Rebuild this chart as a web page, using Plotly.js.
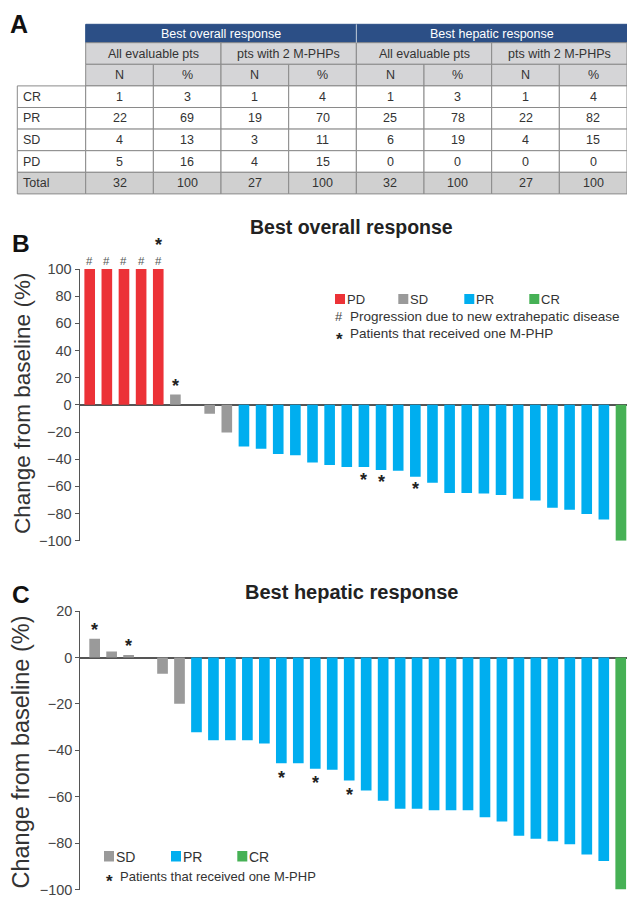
<!DOCTYPE html>
<html><head><meta charset="utf-8">
<script src="https://cdn.plot.ly/plotly-3.0.1.min.js"></script>
<style>html,body{margin:0;padding:0;background:#fff;}#chart{width:627px;height:898px;}</style>
</head><body><div id="chart"></div>
<script>
// ---------- Panel A: table data ----------
const groupHeaders = ['Best overall response', 'Best hepatic response'];
const subHeaders = ['All evaluable pts', 'pts with 2 M-PHPs', 'All evaluable pts', 'pts with 2 M-PHPs'];
const statHeaders = ['N', '%', 'N', '%', 'N', '%', 'N', '%'];
const rowLabels = ['CR', 'PR', 'SD', 'PD', 'Total'];
const overallAllN = [1, 22, 4, 5, 32];
const overallAllPct = [3, 69, 13, 16, 100];
const overallTwoN = [1, 19, 3, 4, 27];
const overallTwoPct = [4, 70, 11, 15, 100];
const hepaticAllN = [1, 25, 6, 0, 32];
const hepaticAllPct = [3, 78, 19, 0, 100];
const hepaticTwoN = [1, 22, 4, 0, 27];
const hepaticTwoPct = [4, 82, 15, 0, 100];

// ---------- Panel B: best overall response ----------
const overallResponse = ['PD','PD','PD','PD','PD','SD','SD','SD','SD',
  'PR','PR','PR','PR','PR','PR','PR','PR','PR','PR','PR','PR','PR','PR','PR','PR','PR','PR','PR','PR','PR','PR','CR'];
const overallChange = [100, 100, 100, 100, 100, 7.6, 0, -6.6, -20.3,
  -30.7, -32.4, -36.1, -37.1, -42.5, -44.2, -45.7, -45.8, -47.9, -48.6, -53.0, -57.4,
  -64.8, -64.8, -65.3, -66.3, -69.2, -70.4, -75.8, -77.3, -80.3, -84.4, -100];
const overallStar = [0,0,0,0,1,1,0,0,0, 0,0,0,0,0,0,0,1,1,0,1,0, 0,0,0,0,0,0,0,0,0,0,0];
const overallHash = [1,1,1,1,1,0,0,0,0, 0,0,0,0,0,0,0,0,0,0,0,0, 0,0,0,0,0,0,0,0,0,0,0];
const overallTicks = [-100, -80, -60, -40, -20, 0, 20, 40, 60, 80, 100];
const overallLegend = ['PD', 'SD', 'PR', 'CR'];

// ---------- Panel C: best hepatic response ----------
const hepaticResponse = ['SD','SD','SD','SD','SD','SD',
  'PR','PR','PR','PR','PR','PR','PR','PR','PR','PR','PR','PR','PR','PR','PR','PR','PR','PR','PR','PR','PR','PR','PR','PR','PR','CR'];
const hepaticChange = [8.1, 2.6, 1.1, 0, -7.0, -19.9,
  -32.2, -35.6, -35.6, -35.6, -37.0, -45.6, -45.6, -47.9, -48.4, -53.0, -57.3, -61.7,
  -65.2, -65.2, -65.8, -65.8, -65.8, -68.8, -70.7, -76.8, -78.1, -79.2, -80.5, -84.9, -87.7, -100];
const hepaticStar = [1,0,1,0,0,0, 0,0,0,0,0,1,0,1,0,1, 0,0,0,0,0,0,0,0,0,0,0,0,0,0,0,0];
const hepaticTicks = [-100, -80, -60, -40, -20, 0, 20];
const hepaticLegend = ['SD', 'PR', 'CR'];

const responseColors = {PD: '#ec3237', SD: '#9a9a9a', PR: '#00aeef', CR: '#46b155'};
const hashNote = 'Progression due to new extrahepatic disease';
const starNote = 'Patients that received one M-PHP';

// ---------- helpers ----------
const W = 627, H = 898;
const fx = p => p / W;
const fy = p => 1 - p / H;
const FONT = 'Liberation Sans, Arial, Helvetica, sans-serif';

const ann = [];
const shapes = [];
function txt(text, x, y, size, opts) {
  ann.push(Object.assign({text: text, x: fx(x), y: fy(y), xref: 'paper', yref: 'paper',
    showarrow: false, xanchor: 'center', yanchor: 'middle',
    font: {family: FONT, size: size, color: '#222'}}, opts || {}));
}
function cell(x0, x1, y0, y1, fill, lineColor) {
  shapes.push({type: 'rect', xref: 'paper', yref: 'paper', layer: 'below',
    x0: fx(x0), x1: fx(x1), y0: fy(y1), y1: fy(y0), fillcolor: fill,
    line: {color: lineColor, width: 1}});
}

// ---------- Panel A: table drawn from the arrays ----------
const tblLeft = 17.3, dataLeft = 85.7, tblRight = 627;
const rowH = 21.6, groupH = 18.4, tTop = 24.3;
const gridCol = '#8a8a8a', headGray = '#d5d5d7', totalGray = '#d0d0d0', navy = '#2c4f86';
const colW = (tblRight - dataLeft) / statHeaders.length;
const tFont = (c) => ({family: FONT, size: 12.5, color: c || '#333'});

groupHeaders.forEach((g, i) => {
  const span = statHeaders.length / groupHeaders.length;
  const x0 = dataLeft + i * span * colW, x1 = x0 + span * colW;
  cell(x0, x1, tTop, tTop + groupH, navy, navy);
  txt(g, (x0 + x1) / 2, tTop + groupH / 2, 12.5, {font: tFont('#ffffff')});
});
shapes.push({type: 'line', xref: 'paper', yref: 'paper', x0: fx(dataLeft + 4 * colW), x1: fx(dataLeft + 4 * colW),
  y0: fy(tTop), y1: fy(tTop + groupH), line: {color: '#c4cddb', width: 1}});
const r2 = tTop + groupH;
subHeaders.forEach((s, i) => {
  const span = statHeaders.length / subHeaders.length;
  const x0 = dataLeft + i * span * colW, x1 = x0 + span * colW;
  cell(x0, x1, r2, r2 + rowH, headGray, gridCol);
  txt(s, (x0 + x1) / 2, r2 + rowH / 2, 12.5, {font: tFont()});
});
const r3 = r2 + rowH;
statHeaders.forEach((s, i) => {
  const x0 = dataLeft + i * colW;
  cell(x0, x0 + colW, r3, r3 + rowH, headGray, gridCol);
  txt(s, x0 + colW / 2, r3 + rowH / 2, 12.5, {font: tFont()});
});
const bodyCols = [overallAllN, overallAllPct, overallTwoN, overallTwoPct,
  hepaticAllN, hepaticAllPct, hepaticTwoN, hepaticTwoPct];
rowLabels.forEach((lab, r) => {
  const y0 = r3 + rowH * (r + 1), y1 = y0 + rowH;
  const fill = lab === 'Total' ? totalGray : '#ffffff';
  cell(tblLeft, dataLeft, y0, y1, fill, gridCol);
  txt(lab, tblLeft + 4, (y0 + y1) / 2, 12.5, {xanchor: 'left', font: tFont()});
  bodyCols.forEach((col, c) => {
    const x0 = dataLeft + c * colW;
    cell(x0, x0 + colW, y0, y1, fill, gridCol);
    txt(String(col[r]), x0 + colW / 2, (y0 + y1) / 2, 12.5, {font: tFont()});
  });
});

// ---------- bar traces ----------
const barB = {
  type: 'bar', xaxis: 'x', yaxis: 'y',
  x: overallChange.map((_, i) => i + 1), y: overallChange, width: 0.62,
  marker: {color: overallResponse.map(r => responseColors[r]), line: {width: 0}},
  hoverinfo: 'skip'
};
const barC = {
  type: 'bar', xaxis: 'x2', yaxis: 'y2',
  x: hepaticChange.map((_, i) => i + 1), y: hepaticChange, width: 0.63,
  marker: {color: hepaticResponse.map(r => responseColors[r]), line: {width: 0}},
  hoverinfo: 'skip'
};

// panel letters
txt('<b>A</b>', 19, 24.5, 25, {font: {family: FONT, size: 25, color: '#111'}});
txt('<b>B</b>', 20.5, 243, 24.5, {font: {family: FONT, size: 24.5, color: '#111'}});
txt('<b>C</b>', 21, 594.5, 24.5, {font: {family: FONT, size: 24.5, color: '#111'}});
// titles
txt('<b>Best overall response</b>', 351, 227, 19.5);
txt('<b>Best hepatic response</b>', 351, 592, 20);
// axis titles
txt('Change from baseline (%)', 22, 404, 22.5, {textangle: -90, font: {family: FONT, size: 22.5, color: '#333'}});
txt('Change from baseline (%)', 20.5, 752, 23.5, {textangle: -90, font: {family: FONT, size: 23.5, color: '#333'}});

// legend B
const legBx = [335, 398.3, 464.3, 529.3];
overallLegend.forEach((k, i) => {
  shapes.push({type: 'rect', xref: 'paper', yref: 'paper', x0: fx(legBx[i]), x1: fx(legBx[i] + 10),
    y0: fy(304), y1: fy(294), fillcolor: responseColors[k], line: {width: 0}});
  txt(k, legBx[i] + 10, 299, 13, {xanchor: 'left', font: {family: FONT, size: 13, color: '#333'}});
});
txt('#', 339, 317, 13, {font: {family: FONT, size: 13, color: '#444'}});
txt(hashNote, 348, 317, 13.5, {xanchor: 'left', font: {family: FONT, size: 13.5, color: '#333'}});
txt('<b>*</b>', 339, 340, 17, {font: {family: FONT, size: 17, color: '#222'}});
txt(starNote, 348, 333, 13.5, {xanchor: 'left', font: {family: FONT, size: 13.5, color: '#333'}});

// legend C
const legCx = [104, 171, 237.3];
hepaticLegend.forEach((k, i) => {
  shapes.push({type: 'rect', xref: 'paper', yref: 'paper', x0: fx(legCx[i]), x1: fx(legCx[i] + 10),
    y0: fy(861.5), y1: fy(851), fillcolor: responseColors[k], line: {width: 0}});
  txt(k, legCx[i] + 10, 856.5, 14, {xanchor: 'left', font: {family: FONT, size: 14, color: '#333'}});
});
txt('<b>*</b>', 109, 881.5, 17, {font: {family: FONT, size: 17, color: '#222'}});
txt(starNote, 117.5, 876.5, 13, {xanchor: 'left', font: {family: FONT, size: 13, color: '#333'}});

// markers on bars
function mark(text, xi, yv, xr, yr, shift, size, color, bold) {
  ann.push({text: bold ? '<b>' + text + '</b>' : text, x: xi, y: yv, xref: xr, yref: yr,
    showarrow: false, xanchor: 'center', yanchor: 'middle', yshift: shift,
    font: {family: FONT, size: size, color: color}});
}
overallChange.forEach((v, i) => {
  if (overallHash[i]) mark('#', i + 1, v, 'x', 'y', 8.5, 11.5, '#555', false);
  if (overallStar[i]) {
    const sh = v >= 0 ? (overallHash[i] ? 24 : 8.5) : -12.5;
    mark('*', i + 1, v, 'x', 'y', sh, 18, '#222', true);
  }
});
hepaticChange.forEach((v, i) => {
  if (hepaticStar[i]) mark('*', i + 1, v, 'x2', 'y2', v >= 0 ? 9 : -14.5, 18, '#222', true);
});

const yCommon = {
  ticks: 'outside', ticklen: 4, tickwidth: 1, tickcolor: '#555',
  showline: true, linecolor: '#555', linewidth: 1, showgrid: false,
  zeroline: true, zerolinecolor: '#555', zerolinewidth: 1.5, ticklabeloverflow: 'allow',
  tickfont: {family: FONT, size: 14.5, color: '#444'}, fixedrange: true
};

const layout = {
  width: W, height: H, margin: {l: 0, r: 0, t: 0, b: 0},
  paper_bgcolor: '#ffffff', plot_bgcolor: 'rgba(0,0,0,0)', showlegend: false,
  font: {family: FONT, color: '#333'},
  xaxis: {domain: [fx(79.5), 1], range: [0.405, 32.35], visible: false, fixedrange: true, anchor: 'y'},
  yaxis: Object.assign({domain: [fy(540.7), fy(269)], range: [-100, 100], tickvals: overallTicks, anchor: 'x'}, yCommon),
  xaxis2: {domain: [fx(80.3), 1], range: [0.154, 32.37], visible: false, fixedrange: true, anchor: 'y2'},
  yaxis2: Object.assign({domain: [fy(889.5), fy(611.2)], range: [-100, 20], tickvals: hepaticTicks, anchor: 'x2'}, yCommon),
  annotations: ann,
  shapes: shapes
};

Plotly.newPlot('chart', [barB, barC], layout, {displayModeBar: false, responsive: false});
</script>
</body></html>
